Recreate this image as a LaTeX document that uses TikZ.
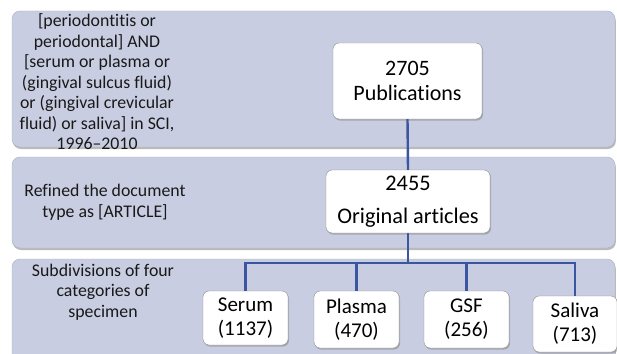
\documentclass[tikz,border=0pt]{standalone}
\usepackage{fontspec}
\setmainfont{Carlito}[Ligatures={NoCommon,NoRare}]
\usetikzlibrary{shadows}
\definecolor{bandc}{HTML}{C9CDE1}
\definecolor{linec}{HTML}{3A56A0}
\begin{document}
\begin{tikzpicture}[x=1pt,y=-1pt,
  band/.style={fill=bandc,draw=bandc!85!black,line width=0.4pt,rounded corners=8pt,
    drop shadow={shadow xshift=0.8pt,shadow yshift=-2pt,fill=black!45,opacity=0.6}},
  bandtext/.style={align=center,font=\fontsize{17.8}{20.5}\selectfont,text=black!90},
  box/.style={draw=black!45,fill=white,rounded corners=6pt,align=center,inner sep=0pt,
    drop shadow={shadow xshift=1pt,shadow yshift=-1.5pt,fill=black!50,opacity=0.5}},
  conn/.style={draw=linec,line width=2.4pt}]
\useasboundingbox (0,0) rectangle (617,353);
\begin{scope}
\clip (0,0) rectangle (617,353);
\path[band] (12,11) rectangle (615,147);
\path[band] (12,157) rectangle (615,248);
\path[band] (12,259) rectangle (615,370);

\node[bandtext] (t1) at (97,82) {{[}periodontitis or\\periodontal] AND\\{[}serum or plasma or\\(gingival sulcus fluid)\\or (gingival crevicular\\fluid) or saliva] in SCI,\\1996--2010};
\node[bandtext] (t2) at (105,202.5) {Refined the document\\type as [ARTICLE]};
\node[bandtext] (t3) at (103,292) {Subdivisions of four\\categories of\\specimen};

\coordinate (j) at (408,263);

\node[box,minimum width=149pt,minimum height=76pt,font=\fontsize{22}{25}\selectfont] (pub) at (407.5,81) {2705\\Publications};
\node[box,minimum width=164pt,minimum height=63pt,font=\fontsize{22.3}{33}\selectfont] (orig) at (408,201.5) {2455\\Original articles};
\node[box,minimum width=85pt,minimum height=54pt,font=\fontsize{21}{24}\selectfont] (serum) at (245.5,318) {Serum\\(1137)};
\node[box,minimum width=85pt,minimum height=57pt,font=\fontsize{21}{24}\selectfont] (plasma) at (356.5,319.5) {Plasma\\(470)};
\node[box,minimum width=85pt,minimum height=57pt,font=\fontsize{21}{24}\selectfont] (gsf) at (466.5,319.5) {GSF\\(256)};
\node[box,minimum width=84pt,minimum height=56pt,font=\fontsize{21}{24}\selectfont] (saliva) at (575,324) {Saliva\\(713)};

\path[conn] (pub.south) -- (orig.north);
\path[conn] (orig.south) -- (j);
\path[conn] (serum.north) |- (j) -| (saliva.north);
\path[conn] (plasma.north) -- (plasma.north |- j);
\path[conn] (gsf.north) -- (gsf.north |- j);
\end{scope}
\end{tikzpicture}
\end{document}
